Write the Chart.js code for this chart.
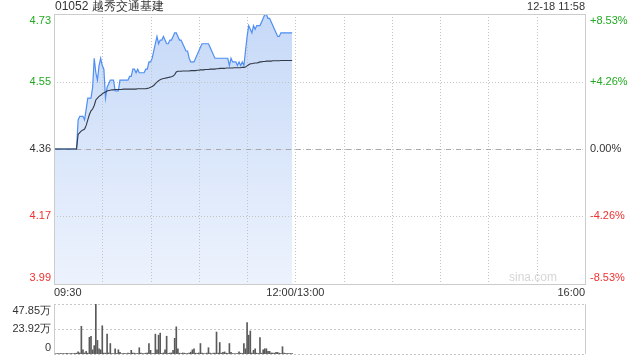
<!DOCTYPE html>
<html>
<head>
<meta charset="utf-8">
<script src="https://cdn.jsdelivr.net/npm/chart.js@4.4.1/dist/chart.umd.min.js"></script>
<style>
  html, body { margin: 0; padding: 0; background: #fff; }
  #wrap { position: relative; width: 640px; height: 360px; }
  #priceCanvas { position: absolute; left: 0; top: 0; }
  #volCanvas { position: absolute; left: 0; top: 290px; }
</style>
</head>
<body>
<div id="wrap">
  <canvas id="priceCanvas" width="640" height="300"></canvas>
  <canvas id="volCanvas" width="640" height="70"></canvas>
</div>
<script>
// Stock info
const stockTitle = '01052 越秀交通基建';
const stockTime = '12-18 11:58';
const preClose = 4.36;

// Axis ticks
const pctSteps = [8.53, 4.26, 0, -4.26, -8.53];
const priceLabels = ['4.73', '4.55', '4.36', '4.17', '3.99'];
const pctLabels = ['+8.53%', '+4.26%', '0.00%', '-4.26%', '-8.53%'];
const volTicks = [47.85, 23.92, 0];
const volLabels = ['47.85万', '23.92万', '0'];
const timeTicks = [0, 150, 330];            // minutes since 09:30, lunch break removed
const timeLabels = ['09:30', '12:00/13:00', '16:00'];

// Per-minute series from 09:30 to 11:58
const prices = [
  4.36, 4.36, 4.36, 4.36, 4.36, 4.36, 4.36, 4.36, 4.36, 4.36, 4.36, 4.36, 4.36, 4.36, 4.36,
  4.44, 4.45, 4.45, 4.45, 4.44, 4.47, 4.50, 4.50, 4.50, 4.53,
  4.61, 4.57, 4.55, 4.59, 4.61, 4.59, 4.58, 4.50, 4.53, 4.54,
  4.55, 4.55, 4.55, 4.52, 4.52, 4.52, 4.55, 4.55, 4.55, 4.55,
  4.55, 4.55, 4.56, 4.56, 4.58, 4.58, 4.57, 4.58, 4.57, 4.57,
  4.57, 4.57, 4.58, 4.58, 4.60, 4.60, 4.61, 4.63, 4.65, 4.67,
  4.65, 4.66, 4.66, 4.67, 4.66, 4.65, 4.65, 4.66, 4.66, 4.67,
  4.68, 4.68, 4.67, 4.66, 4.66, 4.65, 4.64, 4.63, 4.63, 4.61,
  4.60, 4.60, 4.60, 4.61, 4.62, 4.63, 4.64, 4.65, 4.65, 4.65,
  4.65, 4.65, 4.64, 4.63, 4.62, 4.61, 4.61, 4.61, 4.61, 4.61,
  4.61, 4.61, 4.61, 4.61, 4.59, 4.61, 4.60, 4.60, 4.60, 4.59,
  4.60, 4.59, 4.60, 4.59, 4.63, 4.67, 4.70, 4.69, 4.68, 4.70,
  4.69, 4.70, 4.70, 4.70, 4.71, 4.72, 4.73, 4.73, 4.72, 4.72,
  4.71, 4.70, 4.69, 4.68, 4.67, 4.67, 4.68, 4.68, 4.68, 4.68,
  4.68, 4.68, 4.68, 4.68
];
const avgPrices = [
  4.36, 4.36, 4.36, 4.36, 4.36, 4.36, 4.36, 4.36, 4.36, 4.36, 4.36, 4.36, 4.36, 4.36, 4.36,
  4.400, 4.405, 4.410, 4.412, 4.415, 4.425, 4.440, 4.455, 4.465, 4.470,
  4.480, 4.495, 4.500, 4.505, 4.508, 4.512, 4.515, 4.517, 4.520, 4.521,
  4.522, 4.523, 4.523, 4.524, 4.524, 4.524, 4.524, 4.524, 4.525, 4.525,
  4.525, 4.525, 4.525, 4.525, 4.525, 4.525, 4.525, 4.526, 4.526, 4.526,
  4.526, 4.526, 4.526, 4.527, 4.528, 4.530, 4.532, 4.535, 4.540, 4.544,
  4.548, 4.551, 4.553, 4.554, 4.555, 4.556, 4.557, 4.558, 4.559, 4.561,
  4.565, 4.572, 4.574, 4.574, 4.574, 4.575, 4.575, 4.575, 4.575, 4.575,
  4.576, 4.576, 4.576, 4.576, 4.577, 4.577, 4.578, 4.578, 4.578, 4.579,
  4.579, 4.579, 4.580, 4.580, 4.580, 4.580, 4.581, 4.581, 4.582, 4.582,
  4.582, 4.582, 4.583, 4.583, 4.583, 4.583, 4.583, 4.584, 4.584, 4.584,
  4.584, 4.584, 4.585, 4.585, 4.586, 4.589, 4.592, 4.595, 4.595, 4.596,
  4.597, 4.597, 4.598, 4.600, 4.600, 4.601, 4.601, 4.602, 4.602, 4.602,
  4.602, 4.603, 4.603, 4.603, 4.603, 4.603, 4.604, 4.604, 4.604, 4.604,
  4.604, 4.604, 4.604, 4.604
];
// volume in 万 shares
const volumes = [
  0.8, 0.3, 0.4, 0.3, 0.5, 0.3, 0.4, 0.3, 0.6, 0.3, 0.4, 0.5, 0.3, 0.6, 0.8,
  2, 1, 26.5, 4, 1, 2.5, 0.8, 16, 17, 4,
  8, 47.85, 13, 5, 4, 27, 1, 0.8, 19, 1,
  10, 0.5, 0.3, 5, 0.5, 4, 1.5, 0.3, 0.5, 0.5,
  0.3, 1, 0.5, 3.5, 1, 0.8, 0.5, 0.5, 6, 0.8,
  0.5, 0.5, 0.8, 1, 10, 3.5, 0.5, 0.5, 19, 4,
  18, 20, 0.5, 1, 4, 17, 0.5, 0.8, 1, 3.5,
  15, 26, 5, 0.8, 0.5, 1, 0.8, 0.3, 0.5, 0.8,
  1.8, 4, 5, 0.8, 0.5, 1, 10, 0.8, 0.5, 0.3,
  1, 6, 0.8, 0.3, 0.8, 0.8, 21, 0.8, 11, 0.8,
  1.5, 2, 0.8, 0.5, 10, 1.5, 0.5, 0.3, 0.3, 0.5,
  2, 0.8, 0.5, 10, 5, 30, 18, 22, 0.8, 3.5,
  5, 0.8, 0.5, 15.6, 0.8, 4, 5, 5, 2.5, 2.5,
  1, 0.8, 0.8, 1.5, 1.5, 0.8, 0.5, 7, 0.8, 0.5,
  0.5, 0.5, 0.5, 0.3
];

const FONT = '"Liberation Sans", Arial, sans-serif';
const GREEN = '#22aa22';
const RED = '#f03030';
const TEXT = '#333333';
const LINE = '#cccccc';

const priceLevels = pctSteps.map(p => preClose * (1 + p / 100));
const yMax = priceLevels[0];
const yMin = priceLevels[priceLevels.length - 1];

function labelColor(p) {
    if (p > 0) return GREEN;
    if (p < 0) return RED;
    return TEXT;
}

function dottedLine(ctx, x1, y1, x2, y2, dash, color) {
    ctx.save();
    ctx.strokeStyle = color;
    ctx.lineWidth = 1;
    ctx.setLineDash(dash);
    ctx.beginPath();
    ctx.moveTo(x1, y1);
    ctx.lineTo(x2, y2);
    ctx.stroke();
    ctx.restore();
}

// Grid, frame and labels of the price panel
const priceFrame = {
    id: 'priceFrame',
    // runs after the filler has painted the area, before the price line itself
    beforeDatasetDraw(chart, args) {
        if (args.index !== 0) return;
        const { ctx, chartArea: a, scales } = chart;
        const x = scales.x, y = scales.y;
        for (let m = 30; m < 330; m += 30) {
            const px = Math.round(x.getPixelForValue(m)) + 0.5;
            dottedLine(ctx, px, a.top, px, a.bottom, [1, 2], '#c4c4c4');
        }
        priceLevels.forEach((v, i) => {
            if (i === 0 || i === priceLevels.length - 1) return;
            const py = Math.round(y.getPixelForValue(v)) + 0.5;
            if (pctSteps[i] === 0) {
                dottedLine(ctx, a.left, py, a.right, py, [1, 2], '#d0d0d0');
                dottedLine(ctx, a.left + 2, py, a.right, py, [5, 5], '#aaaaaa');
            } else {
                dottedLine(ctx, a.left, py, a.right, py, [1, 2], '#c4c4c4');
            }
        });
    },
    afterDraw(chart) {
        const { ctx, chartArea: a, scales } = chart;
        const x = scales.x, y = scales.y;
        ctx.save();
        ctx.strokeStyle = LINE;
        ctx.lineWidth = 1;
        ctx.strokeRect(Math.round(a.left) + 0.5, Math.round(a.top) + 0.5,
            Math.round(a.right - a.left), Math.round(a.bottom - a.top));

        ctx.textBaseline = 'middle';
        ctx.font = '12px ' + FONT;
        ctx.fillStyle = TEXT;
        ctx.textAlign = 'left';
        ctx.fillText(stockTitle, a.left + 1, 7);
        ctx.font = '11px ' + FONT;
        ctx.textAlign = 'right';
        ctx.fillText(stockTime, a.right, 7);

        priceLevels.forEach((v, i) => {
            let py = y.getPixelForValue(v);
            if (i === 0) py += 6.5;
            if (i === priceLevels.length - 1) py -= 6;
            ctx.fillStyle = labelColor(pctSteps[i]);
            ctx.textAlign = 'right';
            ctx.fillText(priceLabels[i], a.left - 3, py);
            ctx.textAlign = 'left';
            ctx.fillText(pctLabels[i], a.right + 5, py);
        });

        ctx.fillStyle = TEXT;
        timeTicks.forEach((t, i) => {
            const px = x.getPixelForValue(t);
            ctx.textAlign = i === 0 ? 'left' : (i === timeTicks.length - 1 ? 'right' : 'center');
            ctx.fillText(timeLabels[i], px, a.bottom + 9);
        });

        ctx.font = '12px ' + FONT;
        ctx.fillStyle = '#d6d6d6';
        ctx.textAlign = 'center';
        ctx.fillText('sina.com', a.right - 52, a.bottom - 6);
        ctx.restore();
    }
};

const volFrame = {
    id: 'volFrame',
    beforeDatasetsDraw(chart) {
        const { ctx, chartArea: a, scales } = chart;
        volTicks.forEach(v => {
            const py = Math.round(scales.y.getPixelForValue(v)) + 0.5;
            dottedLine(ctx, a.left, py, a.right, py, [2, 2], '#c8c8c8');
        });
    },
    afterDraw(chart) {
        const { ctx, chartArea: a, scales } = chart;
        ctx.save();
        ctx.strokeStyle = LINE;
        ctx.lineWidth = 1;
        ctx.beginPath();
        ctx.moveTo(Math.round(a.left) + 0.5, a.top);
        ctx.lineTo(Math.round(a.left) + 0.5, a.bottom);
        ctx.moveTo(Math.round(a.right) + 0.5, a.top);
        ctx.lineTo(Math.round(a.right) + 0.5, a.bottom);
        ctx.stroke();

        ctx.font = '11px ' + FONT;
        ctx.fillStyle = TEXT;
        ctx.textAlign = 'right';
        ctx.textBaseline = 'middle';
        volTicks.forEach((v, i) => {
            let py = scales.y.getPixelForValue(v);
            if (i === 0) py += 7;
            if (i === volTicks.length - 1) py -= 6;
            ctx.fillText(volLabels[i], a.left - 3, py);
        });
        ctx.restore();
    }
};

const hiddenLinear = (min, max) => ({
    type: 'linear', min: min, max: max, offset: false, display: false
});

const priceCtx = document.getElementById('priceCanvas').getContext('2d');
new Chart(priceCtx, {
    type: 'line',
    data: {
        datasets: [
            {
                label: 'price',
                data: prices.map((v, i) => ({ x: i, y: v })),
                borderColor: '#4f8ef2',
                borderWidth: 1.2,
                pointRadius: 0,
                tension: 0,
                fill: 'start',
                backgroundColor: function(context) {
                    const area = context.chart.chartArea;
                    if (!area) return 'rgba(200,218,250,0.8)';
                    const g = context.chart.ctx.createLinearGradient(0, area.top, 0, area.bottom);
                    g.addColorStop(0, '#c6d9f8');
                    g.addColorStop(1, '#edf3fd');
                    return g;
                },
                order: 2
            },
            {
                label: 'avg',
                data: avgPrices.map((v, i) => ({ x: i, y: v })),
                borderColor: '#333a48',
                borderWidth: 1.1,
                pointRadius: 0,
                tension: 0,
                fill: false,
                order: 1
            }
        ]
    },
    options: {
        responsive: false,
        animation: false,
        layout: { padding: { left: 54, right: 55, top: 14, bottom: 16 } },
        scales: {
            x: hiddenLinear(0, 330),
            y: hiddenLinear(yMin, yMax)
        },
        plugins: { legend: { display: false }, tooltip: { enabled: false } }
    },
    plugins: [priceFrame]
});

const volCtx = document.getElementById('volCanvas').getContext('2d');
new Chart(volCtx, {
    type: 'bar',
    data: {
        datasets: [{
            label: 'volume',
            data: volumes.map((v, i) => ({ x: i, y: v })),
            backgroundColor: '#5a5a5a',
            barThickness: 1,
            grouped: false
        }]
    },
    options: {
        responsive: false,
        animation: false,
        layout: { padding: { left: 54, right: 55, top: 14, bottom: 6 } },
        scales: {
            x: hiddenLinear(0, 330),
            y: hiddenLinear(0, volTicks[0])
        },
        plugins: { legend: { display: false }, tooltip: { enabled: false } }
    },
    plugins: [volFrame]
});
</script>
</body>
</html>
